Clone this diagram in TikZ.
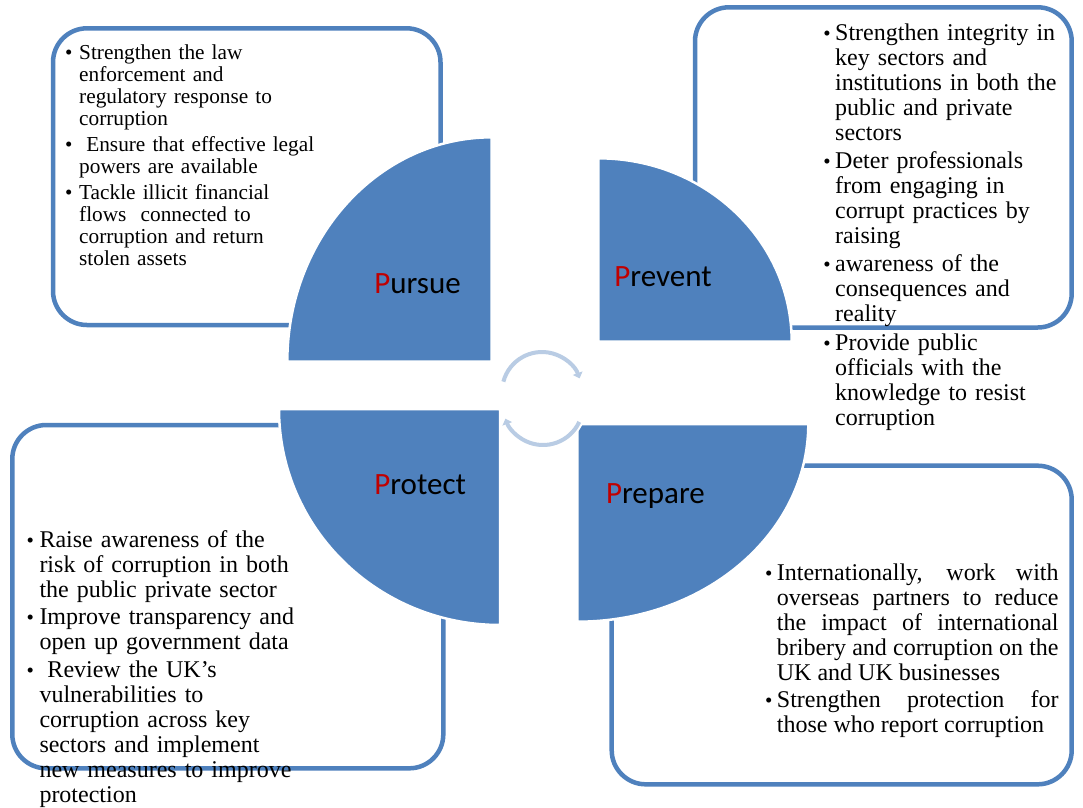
\documentclass[tikz,border=0pt]{standalone}
\usepackage{fontspec}
\setmainfont{Liberation Serif}
\newfontfamily\labelfont{Carlito}
\usetikzlibrary{arrows.meta}

\definecolor{sliceblue}{RGB}{79,129,189}
\definecolor{ringblue}{RGB}{185,204,228}
\definecolor{initred}{RGB}{192,0,0}

% bullet paragraph: #1 = hanging indent, #2 = lines
\newcommand{\bitem}[2]{\noindent\makebox[#1][l]{\fontsize{21pt}{21pt}\selectfont •}\hangindent=#1\hangafter=1 #2\par}

\tikzset{
  panel/.style={draw=sliceblue, line width=4.5pt, rounded corners=34pt},
  slice/.style={fill=sliceblue, draw=white, line width=2.5pt},
  smalltext/.style={anchor=base west, inner sep=0pt, text width=400pt, align=left,
    font=\fontsize{21.3pt}{22pt}\selectfont},
  largetext/.style={anchor=base west, inner sep=0pt, text width=400pt, align=left,
    font=\fontsize{24pt}{25pt}\selectfont},
  justtext/.style={anchor=base west, inner sep=0pt, text width=293.6pt, align=justify,
    font=\fontsize{24pt}{25pt}\selectfont},
  caption/.style={anchor=base west, inner sep=0pt,
    font=\labelfont\fontsize{31pt}{33pt}\selectfont},
  ringhalo/.style={draw=white, line width=8pt, -{Triangle[width=14pt,length=8pt]}},
  ringline/.style={draw=ringblue, line width=4pt, -{Triangle[width=10pt,length=5.5pt]}}
}

\begin{document}
\begin{tikzpicture}[x=1pt, y=1pt]
  \useasboundingbox (0,0) rectangle (1083,-807);
  \fill[white] (0,0) rectangle (1083,-807);

  % rounded text panels
  \draw[panel] (53,-28.3) rectangle (440.5,-325);
  \draw[panel] (695,-7.3) rectangle (1071.7,-327.5);
  \draw[panel] (12.3,-425) rectangle (443.3,-768.3);
  \draw[panel] (611.7,-465.7) rectangle (1071.7,-784.3);

  % four quarter segments
  \draw[slice] (491.7,-361.7) -- (287.3,-361.7)
    arc[start angle=180, end angle=90, x radius=204.4pt, y radius=224.4pt] -- cycle;
  \draw[slice] (598.3,-341.7) -- (598.3,-158.3)
    arc[start angle=90, end angle=0, x radius=193.4pt, y radius=183.4pt] -- cycle;
  \draw[slice] (500,-409) -- (279,-409)
    arc[start angle=180, end angle=270, x radius=221pt, y radius=216pt] -- cycle;
  \draw[slice] (577.3,-424) -- (808.3,-424)
    arc[start angle=0, end angle=-90, x radius=231pt, y radius=197.7pt] -- cycle;

  % circular arrows in the middle
  \draw[ringhalo] (542,-392) ++(167:40) arc[start angle=167, end angle=17, radius=40pt];
  \draw[ringline] (542,-392) ++(165:40) arc[start angle=165, end angle=20, radius=40pt];
  \draw[ringhalo] (543,-405) ++(-23:40) arc[start angle=-23, end angle=-163, radius=40pt];
  \draw[ringline] (543,-405) ++(-25:40) arc[start angle=-25, end angle=-160, radius=40pt];

  % segment captions
  \node[caption] (cpursue)  at (374.2,-293.3) {\textcolor{initred}{P}ursue};
  \node[caption] (cprevent) at (614.2,-286.7) {\textcolor{initred}{P}revent};
  \node[caption] (cprotect) at (374.2,-494)   {\textcolor{initred}{P}rotect};
  \node[caption] (cprepare) at (605.8,-503.3) {\textcolor{initred}{P}repare};

  % Pursue
  \node[smalltext] (pu1) at (64.8,-59) {\bitem{14.2pt}{Strengthen the law\newline
    enforcement and\newline regulatory response to\newline corruption}};
  \node[smalltext] (pu2) at (64.8,-151) {\bitem{14.2pt}{\ Ensure that effective legal\newline
    powers are available}};
  \node[smalltext] (pu3) at (64.8,-199) {\bitem{14.2pt}{Tackle illicit financial\newline
    flows\ \ connected to\newline corruption and return\newline stolen assets}};

  % Prevent
  \node[largetext] (pv1) at (823.2,-40.5) {\bitem{11.8pt}{Strengthen integrity in\newline
    key sectors and\newline institutions in both the\newline public and private\newline sectors}};
  \node[largetext] (pv2) at (823.2,-168) {\bitem{11.8pt}{Deter professionals\newline
    from engaging in\newline corrupt practices by\newline raising}};
  \node[largetext] (pv3) at (823.2,-271.5) {\bitem{11.8pt}{awareness of the\newline
    consequences and\newline reality}};
  \node[largetext] (pv4) at (823.2,-350) {\bitem{11.8pt}{Provide public\newline
    officials with the\newline knowledge to resist\newline corruption}};

  % Protect
  \node[largetext] (pt1) at (26.5,-547) {\bitem{12.8pt}{Raise awareness of the\newline
    risk of corruption in both\newline the public private sector}};
  \node[largetext] (pt2) at (26.5,-624.5) {\bitem{12.8pt}{Improve transparency and\newline
    open up government data}};
  \node[largetext] (pt3) at (26.5,-677) {\bitem{12.8pt}{\ Review the UK’s\newline
    vulnerabilities to\newline corruption across key\newline sectors and implement\newline
    new measures to improve\newline protection}};

  % Prepare
  \node[justtext] (pp1) at (764.8,-580) {\bitem{11.9pt}{Internationally, work with\linebreak
    overseas partners to reduce\linebreak the impact of international\linebreak
    bribery and corruption on the\linebreak UK and UK businesses}};
  \node[justtext] (pp2) at (764.8,-707.5) {\bitem{11.9pt}{Strengthen protection for\linebreak
    those who report corruption}};
\end{tikzpicture}
\end{document}
